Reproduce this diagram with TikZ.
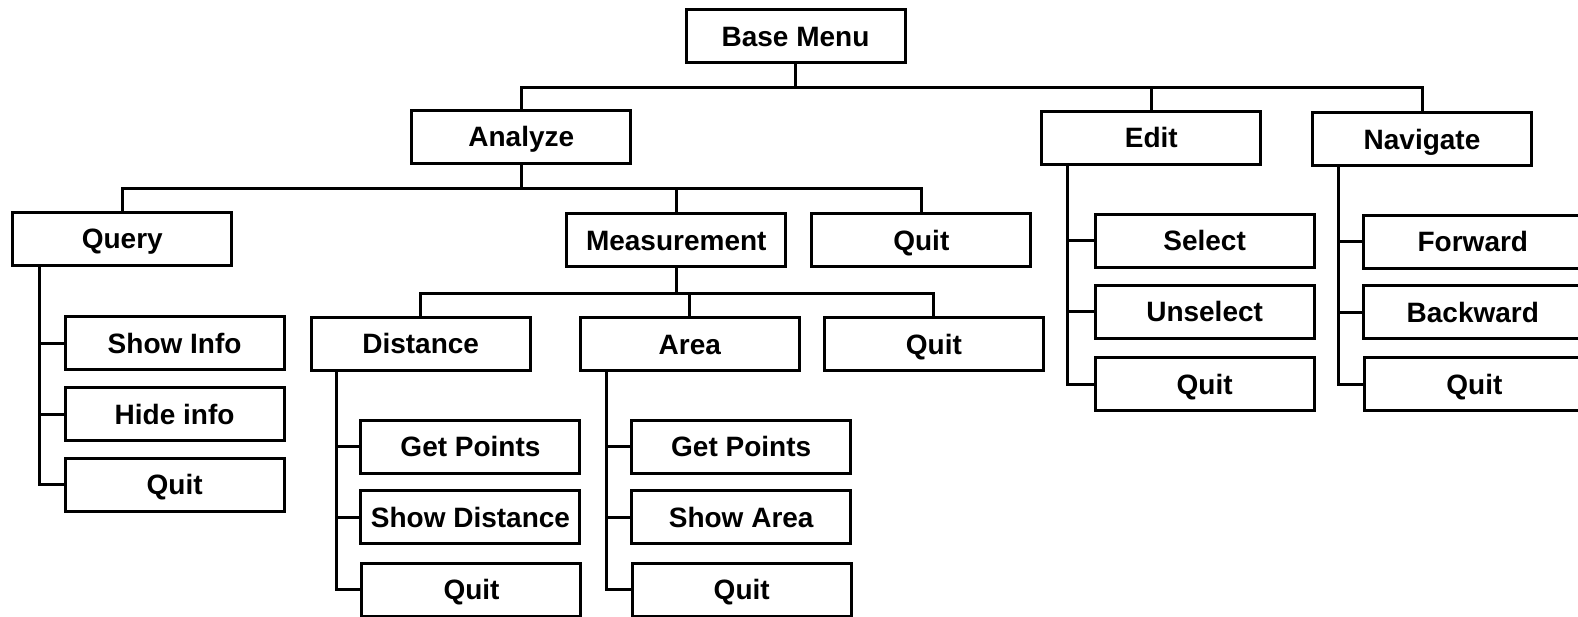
\documentclass[tikz,border=0pt]{standalone}
\usepackage{fontspec}
\setmainfont{Liberation Sans}
\begin{document}
\begin{tikzpicture}[x=1.0064pt,y=-1.0064pt,
  menubox/.style={draw,line width=3pt,minimum width=219pt,minimum height=53pt,inner sep=0pt,
    text height=20pt,text depth=0pt,font=\fontsize{28}{32}\selectfont\bfseries},
  conn/.style={line width=3pt,line join=miter}]
\clip (0,0) rectangle (1568,613);
\fill[white] (0,0) rectangle (1568,613);
% level 0/1
\node[menubox] (base) at (790.5,36) {Base Menu};
\node[menubox] (analyze) at (518,136) {Analyze};
\node[menubox] (edit) at (1144,137) {Edit};
\node[menubox] (navigate) at (1413,138.5) {Navigate};
% analyze children
\node[menubox] (query) at (121.5,237) {Query};
\node[menubox] (measure) at (672,238.5) {Measurement};
\node[menubox] (quitA) at (915.5,238.5) {Quit};
% measurement children
\node[menubox] (distance) at (418,341.5) {Distance};
\node[menubox] (area) at (685.5,342) {Area};
\node[menubox] (quitM) at (928,342) {Quit};
% query children
\node[menubox] (showinfo) at (173.5,341) {Show Info};
\node[menubox] (hideinfo) at (173.5,411.5) {Hide info};
\node[menubox] (quitQ) at (173.5,481.5) {Quit};
% distance children
\node[menubox] (getptsD) at (467.5,444) {Get Points};
\node[menubox] (showdist) at (467.5,514) {Show Distance};
\node[menubox] (quitD) at (468.5,586) {Quit};
% area children
\node[menubox] (getptsA) at (736.5,444) {Get Points};
\node[menubox] (showarea) at (736.5,514) {Show Area};
\node[menubox] (quitAr) at (737,586) {Quit};
% edit children
\node[menubox] (select) at (1197,239) {Select};
\node[menubox] (unselect) at (1197,310) {Unselect};
\node[menubox] (quitE) at (1197,382) {Quit};
% navigate children
\node[menubox] (forward) at (1463.5,240) {Forward};
\node[menubox] (backward) at (1463.5,310.5) {Backward};
\node[menubox] (quitN) at (1465,382) {Quit};
% top-down connectors
\draw[conn] (base.south) -- ++(0,23.5) -| (analyze.north);
\draw[conn] (base.south) -- ++(0,23.5) -| (edit.north);
\draw[conn] (base.south) -- ++(0,23.5) -| (navigate.north);
\draw[conn] (analyze.south) -- ++(0,23.5) -| (query.north);
\draw[conn] (analyze.south) -- ++(0,23.5) -| (measure.north);
\draw[conn] (analyze.south) -- ++(0,23.5) -| (quitA.north);
\draw[conn] (measure.south) -- ++(0,25) -| (distance.north);
\draw[conn] (measure.south) -- ++(0,25) -| (area.north);
\draw[conn] (measure.south) -- ++(0,25) -| (quitM.north);
% side connectors
\draw[conn] ([xshift=28pt]query.south west) |- (quitQ.west);
\draw[conn] ([xshift=28pt]query.south west) |- (hideinfo.west);
\draw[conn] ([xshift=28pt]query.south west) |- (showinfo.west);
\draw[conn] ([xshift=27pt]distance.south west) |- (quitD.west);
\draw[conn] ([xshift=27pt]distance.south west) |- (showdist.west);
\draw[conn] ([xshift=27pt]distance.south west) |- (getptsD.west);
\draw[conn] ([xshift=28pt]area.south west) |- (quitAr.west);
\draw[conn] ([xshift=28pt]area.south west) |- (showarea.west);
\draw[conn] ([xshift=28pt]area.south west) |- (getptsA.west);
\draw[conn] ([xshift=27pt]edit.south west) |- (quitE.west);
\draw[conn] ([xshift=27pt]edit.south west) |- (unselect.west);
\draw[conn] ([xshift=27pt]edit.south west) |- (select.west);
\draw[conn] ([xshift=27pt]navigate.south west) |- (quitN.west);
\draw[conn] ([xshift=27pt]navigate.south west) |- (backward.west);
\draw[conn] ([xshift=27pt]navigate.south west) |- (forward.west);
\end{tikzpicture}
\end{document}
